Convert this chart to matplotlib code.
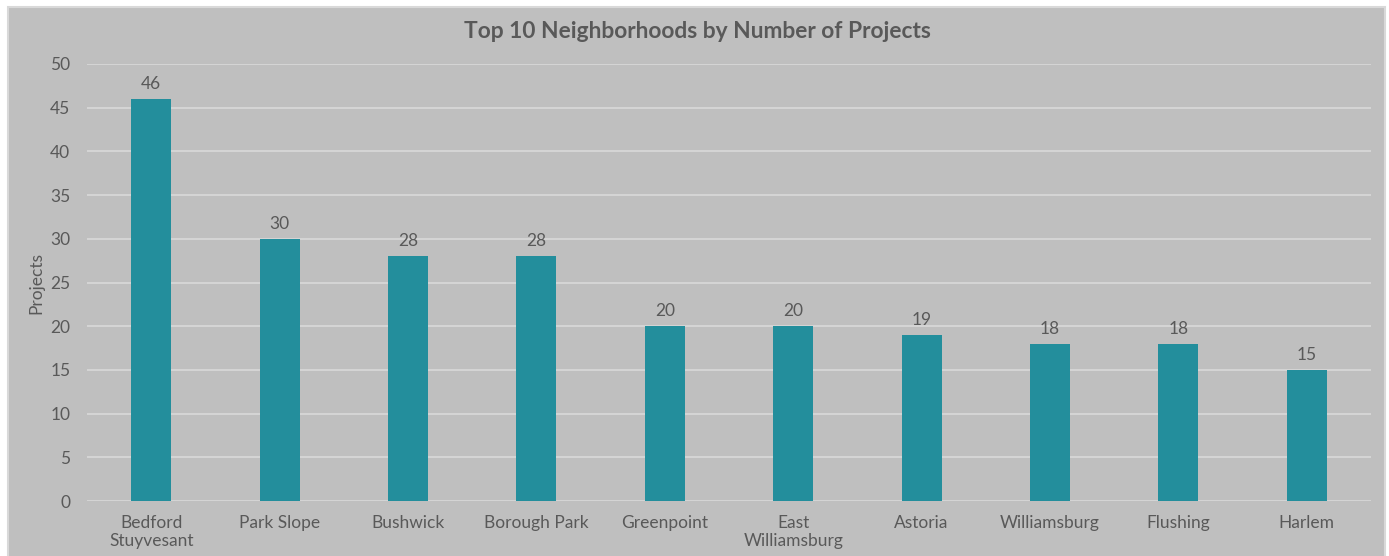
import matplotlib
matplotlib.use("Agg")
import matplotlib.pyplot as plt
from matplotlib.patches import Rectangle

neighborhoods = ["Bedford\nStuyvesant", "Park Slope", "Bushwick", "Borough Park", "Greenpoint",
                 "East\nWilliamsburg", "Astoria", "Williamsburg", "Flushing", "Harlem"]
projects = [46, 30, 28, 28, 20, 20, 19, 18, 18, 15]
yticks = [0, 5, 10, 15, 20, 25, 30, 35, 40, 45, 50]

plt.rcParams['font.family'] = ['Lato', 'DejaVu Sans']
W, H = 1389, 556
fig = plt.figure(figsize=(W / 100, H / 100), dpi=100, facecolor='white')
fig.patches.append(Rectangle((8 / W, -0.02), (1385 - 8) / W, (H - 7) / H + 0.02, transform=fig.transFigure,
                             facecolor='#bfbfbf', edgecolor='#d9d9d9', linewidth=1.5, zorder=-10))

ax = fig.add_axes([87 / W, (H - 501) / H, (1371 - 87) / W, (501 - 64) / H])
ax.set_facecolor('none')
x = list(range(len(neighborhoods)))
ax.bar(x, projects, width=0.31, color='#238e9c', zorder=3)
for xi, v in zip(x, projects):
    ax.annotate(str(v), (xi, v), xytext=(0, 5), textcoords='offset points', ha='center', va='bottom',
                fontsize=12.5, color='#595959')
ax.set_xlim(-0.5, len(neighborhoods) - 0.5)
ax.set_ylim(0, 50)
ax.set_yticks(yticks)
ax.set_xticks(x)
ax.set_xticklabels(neighborhoods, fontsize=12.5, color='#595959', linespacing=1.15)
ax.tick_params(axis='y', labelsize=12.5, labelcolor='#595959', length=0, pad=12)
ax.tick_params(axis='x', length=0, pad=10)
ax.grid(axis='y', color='#d9d9d9', linewidth=1.2, zorder=0)
for s in ax.spines.values():
    s.set_visible(False)
ax.set_ylabel('Projects', fontsize=12.5, color='#595959', labelpad=4)
fig.text(697 / W, 1 - 31 / H, 'Top 10 Neighborhoods by Number of Projects', ha='center', va='center',
         fontsize=16.4, fontweight='bold', color='#595959')
fig.savefig('out.png', dpi=100, facecolor='white')
